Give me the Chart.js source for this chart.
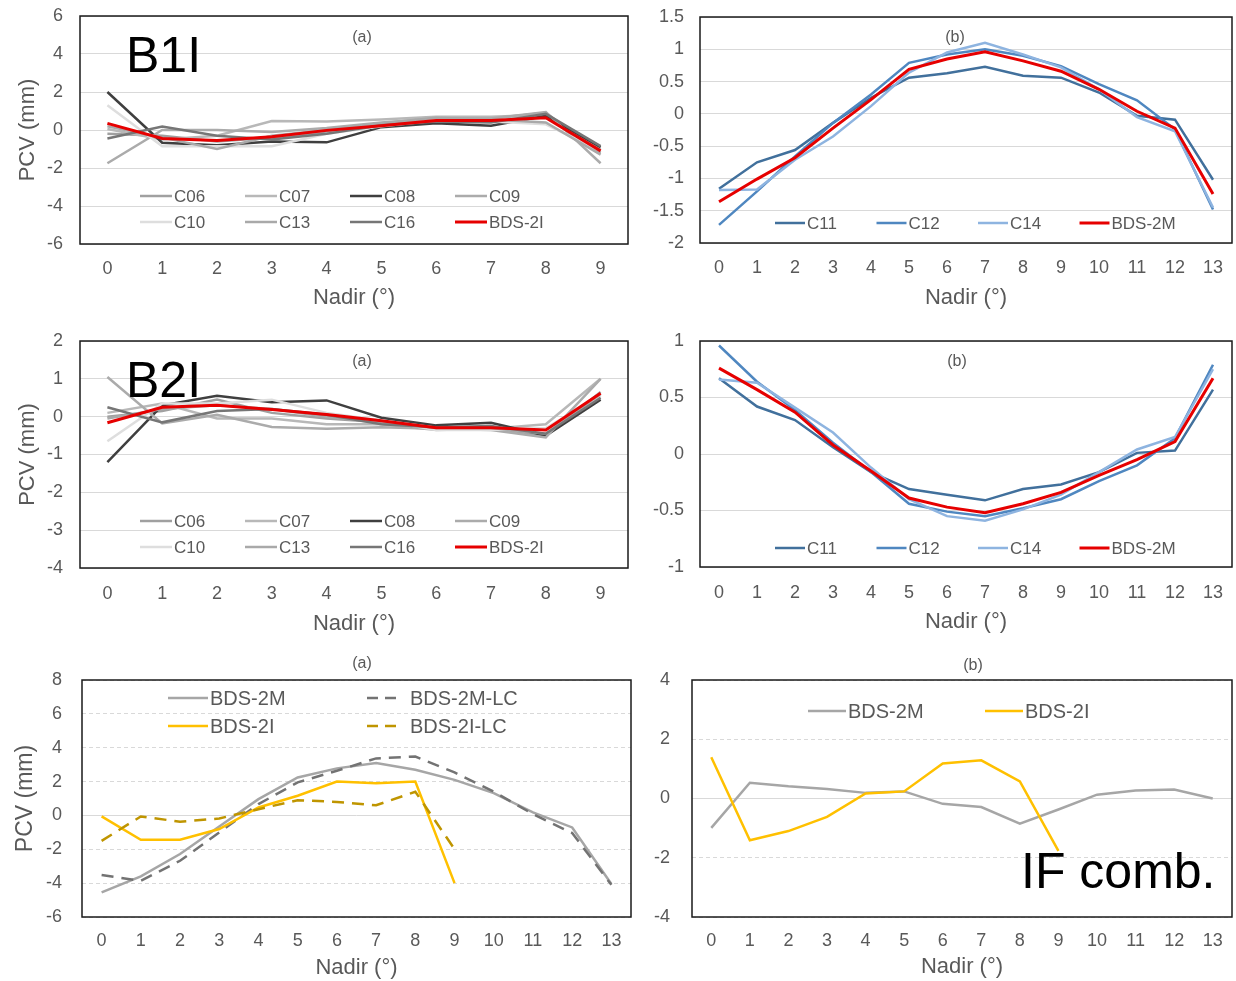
<!DOCTYPE html>
<html>
<head>
<meta charset="utf-8">
<script src="https://cdn.jsdelivr.net/npm/chart.js@4.4.0/dist/chart.umd.min.js"></script>
<style>
  body { margin: 0; background: #fff; font-family: "Liberation Sans", Arial, sans-serif; }
  #fig { position: relative; width: 1236px; height: 981px; overflow: hidden; }
  canvas { position: absolute; }
  .tag { position: absolute; color: #595959; font-size: 16px; line-height: 20px; transform: translateX(-50%); }
  .big { position: absolute; color: #000; font-size: 50px; line-height: 50px; white-space: nowrap; }
</style>
</head>
<body>
<div id="fig">
  <canvas id="p1" width="640" height="316" style="left:0;top:0"></canvas>
  <canvas id="p2" width="596" height="316" style="left:640px;top:0"></canvas>
  <canvas id="p3" width="640" height="317" style="left:0;top:325px"></canvas>
  <canvas id="p4" width="596" height="317" style="left:640px;top:325px"></canvas>
  <canvas id="p5" width="640" height="317" style="left:0;top:664px"></canvas>
  <canvas id="p6" width="596" height="317" style="left:640px;top:664px"></canvas>

  <div class="tag" style="left:362px;top:27px">(a)</div>
  <div class="tag" style="left:955px;top:27px">(b)</div>
  <div class="tag" style="left:362px;top:351px">(a)</div>
  <div class="tag" style="left:957px;top:351px">(b)</div>
  <div class="tag" style="left:362px;top:653px">(a)</div>
  <div class="tag" style="left:973px;top:655px">(b)</div>

  <div class="big" style="left:126px;top:30px">B1I</div>
  <div class="big" style="left:126px;top:355px">B2I</div>
  <div class="big" style="left:1021px;top:846px">IF comb.</div>
</div>

<script>
// nadir angles
const nadirIGSO = ['0', '1', '2', '3', '4', '5', '6', '7', '8', '9'];
const nadirMEO = ['0', '1', '2', '3', '4', '5', '6', '7', '8', '9', '10', '11', '12', '13'];

// B1I, IGSO/GEO satellites
const c06B1 = [-0.2, -0.3, -0.6, -0.4, -0.1, 0.3, 0.55, 0.6, 0.9, -1.2];
const c07B1 = [0.05, -0.5, -0.3, 0.47, 0.45, 0.55, 0.7, 0.7, 0.8, -1.0];
const c08B1 = [2.0, -0.67, -0.8, -0.6, -0.65, 0.15, 0.35, 0.22, 0.75, -0.9];
const c09B1 = [-1.75, 0.0, 0.0, -0.1, 0.1, 0.4, 0.6, 0.6, 0.95, -1.75];
const c10B1 = [1.3, -0.85, -0.85, -0.85, -0.2, 0.2, 0.5, 0.45, 0.3, -1.1];
const c13B1 = [0.2, -0.4, -1.0, -0.3, 0.0, 0.35, 0.65, 0.55, 0.4, -1.3];
const c16B1 = [-0.45, 0.18, -0.3, -0.5, -0.2, 0.25, 0.45, 0.4, 0.85, -0.85];
const bds2iB1 = [0.35, -0.45, -0.55, -0.35, -0.02, 0.22, 0.5, 0.5, 0.65, -1.1];

// B1I, MEO satellites
const c11B1 = [-1.16, -0.75, -0.56, -0.14, 0.25, 0.56, 0.63, 0.73, 0.59, 0.56, 0.33, -0.03, -0.09, -1.02];
const c12B1 = [-1.72, -1.2, -0.66, -0.14, 0.3, 0.79, 0.92, 1.0, 0.9, 0.74, 0.46, 0.21, -0.24, -1.48];
const c14B1 = [-1.18, -1.17, -0.71, -0.35, 0.12, 0.64, 0.95, 1.1, 0.92, 0.72, 0.38, -0.05, -0.27, -1.45];
const bds2mB1 = [-1.36, -1.01, -0.68, -0.22, 0.22, 0.69, 0.85, 0.96, 0.82, 0.66, 0.38, 0.04, -0.22, -1.24];

// B2I, IGSO/GEO satellites
const c06B2 = [0.0, 0.15, 0.45, 0.1, -0.05, -0.15, -0.3, -0.3, -0.5, 0.65];
const c07B2 = [0.1, 0.35, -0.05, -0.05, -0.2, -0.2, -0.35, -0.32, -0.2, 1.0];
const c08B2 = [-1.2, 0.3, 0.55, 0.38, 0.43, -0.03, -0.23, -0.16, -0.5, 0.45];
const c09B2 = [1.05, -0.18, 0.05, -0.27, -0.32, -0.28, -0.32, -0.35, -0.55, 1.0];
const c10B2 = [-0.65, 0.35, 0.35, 0.45, 0.1, -0.1, -0.35, -0.35, -0.3, 0.55];
const c13B2 = [-0.05, 0.2, 0.3, 0.2, 0.0, -0.15, -0.3, -0.3, -0.45, 0.6];
const c16B2 = [0.25, -0.15, 0.15, 0.2, 0.05, -0.2, -0.28, -0.25, -0.45, 0.5];
const bds2iB2 = [-0.16, 0.25, 0.3, 0.19, 0.06, -0.11, -0.29, -0.29, -0.35, 0.62];

// B2I, MEO satellites
const c11B2 = [0.67, 0.42, 0.3, 0.06, -0.16, -0.31, -0.36, -0.41, -0.31, -0.27, -0.16, 0.01, 0.03, 0.57];
const c12B2 = [0.96, 0.64, 0.39, 0.1, -0.16, -0.44, -0.51, -0.55, -0.48, -0.4, -0.24, -0.1, 0.14, 0.79];
const c14B2 = [0.66, 0.63, 0.41, 0.19, -0.12, -0.4, -0.55, -0.59, -0.49, -0.36, -0.16, 0.04, 0.15, 0.75];
const bds2mB2 = [0.76, 0.57, 0.37, 0.08, -0.15, -0.39, -0.47, -0.52, -0.44, -0.34, -0.19, -0.05, 0.11, 0.67];

// ionosphere-free combination
const bds2mIF = [-4.55, -3.6, -2.28, -0.65, 0.96, 2.24, 2.78, 3.09, 2.7, 2.1, 1.32, 0.18, -0.71, -4.05];
const bds2mLC = [-3.52, -3.86, -2.68, -1.0, 0.67, 1.95, 2.64, 3.37, 3.48, 2.54, 1.4, 0.08, -1.04, -4.1];
const bds2iIF = [-0.06, -1.44, -1.44, -0.8, 0.47, 1.16, 2.0, 1.9, 2.0, -4.0];
const bds2iLC = [-1.5, -0.06, -0.37, -0.18, 0.37, 0.9, 0.8, 0.6, 1.4, -1.99];

// difference, panel (b) of IF comb.
const bds2mDiff = [-0.99, 0.53, 0.41, 0.32, 0.19, 0.24, -0.18, -0.29, -0.85, -0.37, 0.13, 0.27, 0.3, 0.0];
const bds2iDiff = [1.39, -1.41, -1.1, -0.62, 0.17, 0.24, 1.18, 1.29, 0.58, -1.77];

const FONT = '"Liberation Sans", Arial, sans-serif';
const TICK = '#595959';

// box around the plot area
const framePlugin = {
    id: 'frame',
    afterDraw(chart) {
        const a = chart.chartArea, c = chart.ctx;
        c.save();
        c.strokeStyle = '#1a1a1a';
        c.lineWidth = 1.5;
        c.strokeRect(a.left, a.top, a.right - a.left, a.bottom - a.top);
        c.restore();
    }
};

// legend drawn inside the plot area, in a grid
const innerLegend = {
    id: 'innerLegend',
    afterDatasetsDraw(chart, args, o) {
        const a = chart.chartArea, c = chart.ctx;
        c.save();
        c.font = o.size + 'px ' + FONT;
        c.textBaseline = 'middle';
        c.fillStyle = TICK;
        chart.data.datasets.forEach((ds, i) => {
            const x = a.left + o.x + (i % o.cols) * o.colW;
            const y = a.top + o.y + Math.floor(i / o.cols) * o.rowH;
            const dashed = ds.borderDash && ds.borderDash.length;
            const len = dashed ? o.dashLen : o.len;
            c.strokeStyle = ds.borderColor;
            c.lineWidth = ds.borderWidth;
            c.setLineDash(dashed ? [11, 7] : []);
            c.beginPath();
            c.moveTo(x, y);
            c.lineTo(x + len, y);
            c.stroke();
            c.setLineDash([]);
            c.fillText(ds.label, x + (dashed ? o.dashText : len + 2), y + 1);
        });
        c.restore();
    }
};

function line(label, data, color, width, dash) {
    return { label, data, borderColor: color, backgroundColor: color, borderWidth: width || 2.5, borderDash: dash || [], pointRadius: 0, tension: 0, fill: false };
}

function makeChart(id, labels, datasets, s) {
    datasets.forEach((d, i) => { d.order = -i; });
    return new Chart(document.getElementById(id).getContext('2d'), {
        type: 'line',
        data: { labels, datasets },
        options: {
            responsive: false,
            animation: false,
            devicePixelRatio: 1,
            layout: { padding: { top: s.padTop, right: s.padRight, left: 0, bottom: 0 } },
            plugins: {
                legend: { display: false },
                tooltip: { enabled: false },
                innerLegend: s.legend
            },
            scales: {
                x: {
                    type: 'category',
                    offset: true,
                    grid: { display: false, drawTicks: false },
                    border: { display: false },
                    ticks: { color: TICK, font: { family: FONT, size: 18 }, padding: s.xPad, maxRotation: 0, autoSkip: false },
                    title: { display: true, text: 'Nadir (°)', color: TICK, font: { family: FONT, size: 22 }, padding: { top: 0, bottom: s.xTitlePad } },
                    afterFit(sc) { sc.height = s.xHeight; sc.paddingLeft = 0; sc.paddingRight = 0; }
                },
                y: {
                    min: s.min, max: s.max,
                    grid: { color: '#d9d9d9', lineWidth: 1, drawTicks: false },
                    border: {
                        display: false,
                        dash: ctx => (s.dashed && ctx.tick && ctx.tick.value !== 0) ? [4, 3] : []
                    },
                    ticks: {
                        stepSize: s.step, color: TICK, font: { family: FONT, size: 18 }, padding: s.yPad,
                        callback: v => String(Math.round(v * 100) / 100)
                    },
                    title: { display: !!s.yTitle, text: 'PCV (mm)', color: TICK, font: { family: FONT, size: s.yTitleSize || 22 }, padding: { top: s.yTitlePad || 0, bottom: 0 } },
                    afterFit(sc) { sc.width = s.yWidth; sc.paddingTop = 0; sc.paddingBottom = 0; }
                }
            }
        },
        plugins: [framePlugin, innerLegend]
    });
}

const greyIGSO = ['#a0a0a0', '#b8b8b8', '#3f3f3f', '#ababab', '#dedede', '#a9a9a9', '#767676'];
const blueMEO = ['#41709c', '#4f87c0', '#8eb4e0'];
const RED = '#e60000';

makeChart('p1', nadirIGSO, [
    line('C06', c06B1, greyIGSO[0]), line('C07', c07B1, greyIGSO[1]),
    line('C08', c08B1, greyIGSO[2]), line('C09', c09B1, greyIGSO[3]),
    line('C10', c10B1, greyIGSO[4]), line('C13', c13B1, greyIGSO[5]),
    line('C16', c16B1, greyIGSO[6]), line('BDS-2I', bds2iB1, RED, 3)
], { min: -6, max: 6, step: 2, padTop: 16, padRight: 12, yWidth: 80, yPad: 17, yTitle: true, yTitlePad: 15,
     xHeight: 72, xPad: 14, xTitlePad: 5,
     legend: { x: 60, y: 180, colW: 105, rowH: 26, cols: 4, len: 32, size: 17 } });

makeChart('p2', nadirMEO, [
    line('C11', c11B1, blueMEO[0]), line('C12', c12B1, blueMEO[1]),
    line('C14', c14B1, blueMEO[2]), line('BDS-2M', bds2mB1, RED, 3)
], { min: -2, max: 1.5, step: 0.5, padTop: 17, padRight: 4, yWidth: 60, yPad: 16,
     xHeight: 73, xPad: 14, xTitlePad: 5,
     legend: { x: 75, y: 206, colW: 101.5, rowH: 26, cols: 4, len: 30, size: 17 } });

makeChart('p3', nadirIGSO, [
    line('C06', c06B2, greyIGSO[0]), line('C07', c07B2, greyIGSO[1]),
    line('C08', c08B2, greyIGSO[2]), line('C09', c09B2, greyIGSO[3]),
    line('C10', c10B2, greyIGSO[4]), line('C13', c13B2, greyIGSO[5]),
    line('C16', c16B2, greyIGSO[6]), line('BDS-2I', bds2iB2, RED, 3)
], { min: -4, max: 2, step: 1, padTop: 16, padRight: 12, yWidth: 80, yPad: 17, yTitle: true, yTitlePad: 15,
     xHeight: 74, xPad: 15, xTitlePad: 5,
     legend: { x: 60, y: 180, colW: 105, rowH: 26, cols: 4, len: 32, size: 17 } });

makeChart('p4', nadirMEO, [
    line('C11', c11B2, blueMEO[0]), line('C12', c12B2, blueMEO[1]),
    line('C14', c14B2, blueMEO[2]), line('BDS-2M', bds2mB2, RED, 3)
], { min: -1, max: 1, step: 0.5, padTop: 16, padRight: 4, yWidth: 60, yPad: 16,
     xHeight: 75, xPad: 15, xTitlePad: 7,
     legend: { x: 75, y: 207, colW: 101.5, rowH: 26, cols: 4, len: 30, size: 17 } });

makeChart('p5', nadirMEO, [
    line('BDS-2M', bds2mIF, '#a6a6a6'), line('BDS-2M-LC', bds2mLC, '#737373', 2.5, [12, 8]),
    line('BDS-2I', bds2iIF, '#ffc000'), line('BDS-2I-LC', bds2iLC, '#bf9500', 2.5, [12, 8])
], { min: -6, max: 8, step: 2, padTop: 16, padRight: 9, yWidth: 82, yPad: 20, yTitle: true, yTitleSize: 23, yTitlePad: 12, dashed: true,
     xHeight: 64, xPad: 13, xTitlePad: 0,
     legend: { x: 86, y: 18, colW: 199, rowH: 28, cols: 2, len: 40, dashLen: 30, dashText: 43, size: 20 } });

makeChart('p6', nadirMEO, [
    line('BDS-2M', bds2mDiff, '#a6a6a6'), line('BDS-2I', bds2iDiff, '#ffc000')
], { min: -4, max: 4, step: 2, padTop: 16, padRight: 4, yWidth: 52, yPad: 22, dashed: true,
     xHeight: 64, xPad: 13, xTitlePad: 1,
     legend: { x: 116, y: 31, colW: 177, rowH: 28, cols: 2, len: 38, size: 20 } });
</script>
</body>
</html>
